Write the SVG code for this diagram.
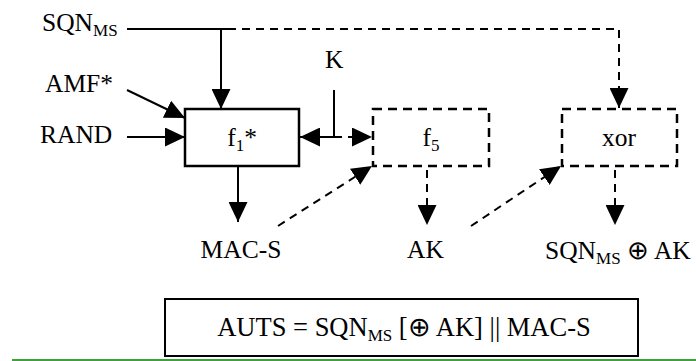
<svg xmlns="http://www.w3.org/2000/svg" width="696" height="361" viewBox="0 0 696 361">
<style>
text{font-family:"Liberation Serif","Times New Roman",serif;font-size:25.5px;fill:#000}
.sub{font-size:17px}
.box{fill:#fff;stroke:#000;stroke-width:2.5}
.dbox{fill:#fff;stroke:#000;stroke-width:2.5;stroke-dasharray:9 6}
.ln{fill:none;stroke:#000;stroke-width:2}
.dl{fill:none;stroke:#000;stroke-width:2;stroke-dasharray:8 6}
</style>
<defs>
<marker id="ah" viewBox="0 0 20 19" refX="20" refY="9.5" markerWidth="20" markerHeight="19" orient="auto" markerUnits="userSpaceOnUse">
<path d="M0,0 L20,9.5 L0,19 z" fill="#000"/>
</marker>
</defs>
<rect width="696" height="361" fill="#fff"/>
<g id="connectors">
<path class="ln" d="M127,29 H228"/>
<path class="ln" d="M221,29 V109" marker-end="url(#ah)"/>
<path class="dl" d="M228,29 H619 V108" marker-end="url(#ah)"/>
<path class="ln" d="M127,90 L185,118" marker-end="url(#ah)"/>
<path class="ln" d="M127,137 H185" marker-end="url(#ah)"/>
<path class="ln" d="M334,90 V137 H300" marker-end="url(#ah)"/>
<path class="dl" d="M334,137 H372" marker-end="url(#ah)"/>
<path class="ln" d="M238,166 V222" marker-end="url(#ah)"/>
<path class="dl" d="M278,226 L372,166" marker-end="url(#ah)"/>
<path class="dl" d="M427,170 V225" marker-end="url(#ah)"/>
<path class="dl" d="M471,226 L561,166" marker-end="url(#ah)"/>
<path class="dl" d="M615,170 V225" marker-end="url(#ah)"/>
</g>
<g id="sqn-in"><text x="42" y="31">SQN<tspan class="sub" dy="5">MS</tspan></text></g>
<g id="amf-in"><text x="45" y="92">AMF*</text></g>
<g id="rand-in"><text x="40" y="143">RAND</text></g>
<g id="k-in"><text x="325" y="68">K</text></g>
<g id="f1">
<rect class="box" x="185" y="109" width="114" height="57"/>
<text x="242" y="146" text-anchor="middle">f<tspan class="sub" dy="5">1</tspan><tspan dy="-5">*</tspan></text>
</g>
<g id="f5">
<rect class="dbox" x="373" y="109" width="116" height="57"/>
<text x="431" y="146" text-anchor="middle">f<tspan class="sub" dy="5">5</tspan></text>
</g>
<g id="xor">
<rect class="dbox" x="562" y="109" width="115" height="57"/>
<text x="619" y="146" text-anchor="middle">xor</text>
</g>
<g id="mac-s"><text x="241" y="258" text-anchor="middle">MAC-S</text></g>
<g id="ak"><text x="425.5" y="258" text-anchor="middle">AK</text></g>
<g id="sqn-xor-ak"><text x="545" y="259">SQN<tspan class="sub" dy="5">MS</tspan><tspan dy="-5"> ⊕ AK</tspan></text></g>
<g id="auts">
<rect x="165" y="299" width="473" height="57" fill="#fff" stroke="#000" stroke-width="2"/>
<text x="404" y="336" text-anchor="middle" style="font-size:26.5px">AUTS = SQN<tspan class="sub" dy="5">MS</tspan><tspan dy="-5"> [⊕ AK] || MAC-S</tspan></text>
</g>
<line x1="12" y1="360" x2="696" y2="360" stroke="#008000" stroke-width="1.5"/>
</svg>
